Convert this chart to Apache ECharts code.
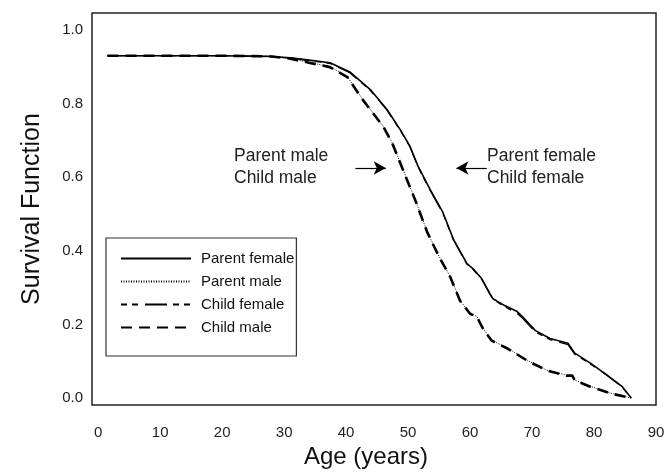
<!DOCTYPE html>
<html>
<head>
<meta charset="utf-8">
<script src="https://cdn.jsdelivr.net/npm/echarts@6/dist/echarts.min.js"></script>
<style>
html,body{margin:0;padding:0;background:#fff;}
#c{width:671px;height:474px;}
</style>
</head>
<body>
<div id="c"></div>
<script>
// ---- data ----
const xTicks = [0, 10, 20, 30, 40, 50, 60, 70, 80, 90];
const yTicks = [0, 0.2, 0.4, 0.6, 0.8, 1.0];

const femaleAges   = [1.5, 10, 20, 28, 31, 34, 37.4, 40.6, 43.9, 46.6, 48.7, 50.3, 51.6, 53.5, 55.6, 57.3, 59.5, 60.5, 61.9, 63.2, 63.7, 65.5, 67.6, 68.4, 70.5, 72.9, 75.8, 76.9, 79.4, 82, 84.5, 86];
const parentFemale = [0.93, 0.93, 0.93, 0.928, 0.924, 0.918, 0.911, 0.886, 0.838, 0.784, 0.730, 0.684, 0.630, 0.568, 0.505, 0.432, 0.365, 0.351, 0.324, 0.284, 0.270, 0.252, 0.235, 0.222, 0.184, 0.162, 0.149, 0.122, 0.095, 0.064, 0.032, 0.0];
const childFemale  = [0.93, 0.93, 0.93, 0.928, 0.924, 0.917, 0.909, 0.884, 0.836, 0.782, 0.728, 0.683, 0.628, 0.566, 0.503, 0.430, 0.364, 0.349, 0.322, 0.282, 0.268, 0.249, 0.230, 0.218, 0.180, 0.159, 0.145, 0.119, 0.093, 0.063, 0.031, 0.0];

const maleAges   = [1.5, 10, 20, 28, 31, 34, 37.4, 40.2, 42.7, 46.0, 47.4, 48.7, 49.8, 51.1, 53.1, 55, 56.8, 58.4, 60.0, 61.1, 62.1, 63.5, 66.1, 69.2, 72.4, 75.6, 76.5, 76.9, 79.4, 82.6, 86];
const parentMale = [0.93, 0.93, 0.93, 0.928, 0.922, 0.912, 0.900, 0.873, 0.811, 0.738, 0.695, 0.641, 0.595, 0.541, 0.451, 0.385, 0.330, 0.265, 0.230, 0.222, 0.189, 0.157, 0.135, 0.103, 0.076, 0.062, 0.062, 0.049, 0.032, 0.014, 0.0];
const childMale  = [0.93, 0.93, 0.93, 0.928, 0.922, 0.911, 0.899, 0.872, 0.810, 0.737, 0.694, 0.640, 0.594, 0.540, 0.450, 0.384, 0.329, 0.264, 0.229, 0.221, 0.188, 0.156, 0.134, 0.102, 0.075, 0.061, 0.061, 0.048, 0.031, 0.013, 0.0];

const seriesNames = ['Parent female', 'Parent male', 'Child female', 'Child male'];
const annotLeft = 'Parent male\nChild male';
const annotRight = 'Parent female\nChild female';
// arrow annotations (data coordinates)
const arrowY = 0.625;
const arrowLeft = [41.5, 46.4];
const arrowRight = [62.7, 57.8];

const pairs = (xs, ys) => xs.map((x, i) => [x, ys[i]]);
const FONT = "'Liberation Sans', Arial, Helvetica, sans-serif";

const chart = echarts.init(document.getElementById('c'), null, {renderer: 'canvas'});
chart.setOption({
  animation: false,
  backgroundColor: '#fff',
  textStyle: {fontFamily: FONT},
  grid: {left: 92, right: 15, top: 13, bottom: 67, show: true, borderColor: '#222', borderWidth: 1.5, backgroundColor: 'transparent'},
  xAxis: {
    type: 'value', min: -1, max: 90,
    axisLine: {show: false}, axisTick: {show: false}, splitLine: {show: false},
    axisLabel: {customValues: xTicks, margin: 20, fontSize: 15, color: '#222', fontFamily: FONT},
    name: 'Age (years)', nameLocation: 'middle', nameGap: 37,
    nameTextStyle: {fontSize: 24, color: '#111', fontFamily: FONT, padding: [0, 16, 0, 0]}
  },
  yAxis: {
    type: 'value', min: -0.019, max: 1.046,
    axisLine: {show: false}, axisTick: {show: false}, splitLine: {show: false},
    axisLabel: {customValues: yTicks, margin: 9, fontSize: 15, color: '#222', fontFamily: FONT,
      formatter: v => v.toFixed(1)},
    name: 'Survival Function', nameLocation: 'middle', nameGap: 47,
    nameTextStyle: {fontSize: 25, color: '#111', fontFamily: FONT}
  },
  legend: {
    orient: 'vertical', left: 106, top: 238,
    data: seriesNames,
    backgroundColor: '#fff',
    borderColor: '#333', borderWidth: 1.2,
    padding: [13, 2, 21, 14],
    itemWidth: 70, itemHeight: 14, itemGap: 8,
    itemStyle: {opacity: 0},
    textStyle: {fontSize: 15, color: '#111', fontFamily: FONT, padding: [8, 0, 0, 5]}
  },
  graphic: [
    {type: 'text', left: 234, top: 145, silent: true,
     style: {text: annotLeft, font: '17.5px ' + FONT, fill: '#222', lineHeight: 22}},
    {type: 'text', left: 487, top: 145, silent: true,
     style: {text: annotRight, font: '17.5px ' + FONT, fill: '#222', lineHeight: 22}}
  ],
  series: [
    {name: 'Child male', type: 'line', data: pairs(maleAges, childMale), symbol: 'none', z: 2,
     lineStyle: {color: '#000', width: 2.6, type: [11, 7]}, itemStyle: {color: '#000'}},
    {name: 'Child female', type: 'line', data: pairs(femaleAges, childFemale), symbol: 'none', z: 2,
     lineStyle: {color: '#000', width: 1.3, type: [6, 5, 6, 7, 22, 6]}, itemStyle: {color: '#000'}},
    {name: 'Parent male', type: 'line', data: pairs(maleAges, parentMale), symbol: 'none', z: 3,
     lineStyle: {color: '#000', width: 1, type: [1, 1.5]}, itemStyle: {color: '#000'}},
    {name: 'Parent female', type: 'line', data: pairs(femaleAges, parentFemale), symbol: 'none', z: 3,
     lineStyle: {color: '#000', width: 1.6, type: 'solid'}, itemStyle: {color: '#000'},
     markLine: {
       silent: true, symbol: ['none', 'arrow'], symbolSize: [10, 12],
       label: {show: false},
       lineStyle: {color: '#000', width: 1.2, type: 'solid'},
       emphasis: {disabled: true},
       data: [
         [{coord: [arrowLeft[0], arrowY]}, {coord: [arrowLeft[1], arrowY]}],
         [{coord: [arrowRight[0], arrowY]}, {coord: [arrowRight[1], arrowY]}]
       ]
     }}
  ]
});
</script>
</body>
</html>
